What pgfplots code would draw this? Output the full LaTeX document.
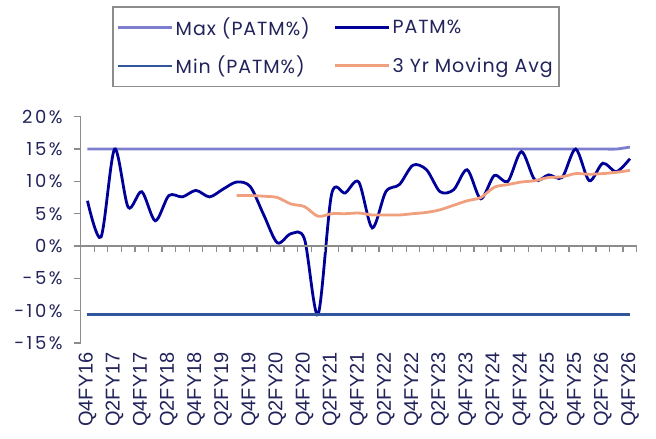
\documentclass[border=0pt]{standalone}
\usepackage{fontspec}
\setmainfont{Poppins}
\newfontfamily\tickfont[LetterSpace=14]{Poppins}
\newfontfamily\legfont[LetterSpace=5]{Poppins}
\newfontfamily\arialfont{Liberation Sans}
\usepackage{pgfplots}
\usepackage{pgfplotstable}
\pgfplotsset{compat=1.18}
\definecolor{maxc}{HTML}{7E7ECF}
\definecolor{patm}{HTML}{000099}
\definecolor{minc}{HTML}{33559C}
\definecolor{mavg}{HTML}{F0A07E}
\definecolor{txt}{HTML}{22235A}
\definecolor{axg}{HTML}{8C8C8C}

\pgfplotstableread{
i patm mx mn
0 7.0 15.0 -10.6
1 1.4 15.0 -10.6
2 15.0 15.0 -10.6
3 6.0 15.0 -10.6
4 8.4 15.0 -10.6
5 3.9 15.0 -10.6
6 7.8 15.0 -10.6
7 7.6 15.0 -10.6
8 8.6 15.0 -10.6
9 7.6 15.0 -10.6
10 8.8 15.0 -10.6
11 9.9 15.0 -10.6
12 9.2 15.0 -10.6
13 4.8 15.0 -10.6
14 0.5 15.0 -10.6
15 1.9 15.0 -10.6
16 1.1 15.0 -10.6
17 -10.6 15.0 -10.6
18 8.0 15.0 -10.6
19 8.2 15.0 -10.6
20 9.9 15.0 -10.6
21 2.8 15.0 -10.6
22 8.4 15.0 -10.6
23 9.5 15.0 -10.6
24 12.5 15.0 -10.6
25 11.8 15.0 -10.6
26 8.4 15.0 -10.6
27 8.7 15.0 -10.6
28 11.8 15.0 -10.6
29 7.3 15.0 -10.6
30 10.9 15.0 -10.6
31 10.0 15.0 -10.6
32 14.6 15.0 -10.6
33 10.2 15.0 -10.6
34 11.0 15.0 -10.6
35 10.6 15.0 -10.6
36 15.0 15.0 -10.6
37 10.1 15.0 -10.6
38 12.8 15.0 -10.6
39 11.5 15.0 -10.6
40 13.5 15.3 -10.6
}\data

\pgfplotstableread{
i ma
11 7.8
12 7.8
13 7.7
14 7.5
15 6.5
16 6.1
17 4.6
18 5.0
19 5.0
20 5.1
21 4.8
22 4.8
23 4.8
24 5.0
25 5.2
26 5.6
27 6.3
28 7.0
29 7.5
30 9.1
31 9.5
32 9.9
33 10.1
34 10.6
35 10.7
36 11.2
37 11.1
38 11.2
39 11.4
40 11.7
}\madata

\begin{document}
\begin{tikzpicture}
\begin{axis}[
  at={(0,0)}, anchor=south west,
  scale only axis, width=556pt, height=226.3pt,
  xmin=-0.5, xmax=40.5, ymin=-15, ymax=20,
  axis x line*=bottom, axis y line*=left,
  x axis line style={draw=none},
  xtick={0,2,...,40},
  xticklabels={Q4FY16,Q2FY17,Q4FY17,Q2FY18,Q4FY18,Q2FY19,Q4FY19,Q2FY20,Q4FY20,Q2FY21,Q4FY21,Q2FY22,Q4FY22,Q2FY23,Q4FY23,Q2FY24,Q4FY24,Q2FY25,Q4FY25,Q2FY26,Q4FY26},
  xtick style={draw=none},
  xticklabel style={rotate=90, anchor=east, font=\arialfont\fontsize{20}{20}\selectfont, text=txt, inner sep=2pt},
  ytick={-15,-10,...,20},
  yticklabels={-15\%,-10\%,-5\%,0\%,5\%,10\%,15\%,20\%},
  yticklabel style={font=\tickfont\fontsize{18}{18}\selectfont, text=txt, inner sep=2pt, xshift=-9pt},
  y axis line style={axg, line width=1.3pt},
  ytick style={axg, line width=1.3pt},
  tick align=outside, major tick length=7pt,
  clip=false,
  legend columns=2,
  legend cell align=left,
  legend image code/.code={\draw[#1] (0pt,0pt) -- (54pt,0pt);},
  legend style={at={(0.0563,1.489)}, anchor=north west, draw=axg, line width=1.8pt,
    font=\legfont\fontsize{19}{19}\selectfont, text=txt, inner xsep=4pt, inner ysep=9pt,
    row sep=15pt,
    /tikz/every even column/.append style={column sep=22pt}},
]
\addplot[maxc, line width=2.8pt, smooth] table[x=i, y=mx] {\data};
\addlegendentry{Max (PATM\%)}
\addplot[patm, line width=2.8pt, smooth] table[x=i, y=patm] {\data};
\addlegendentry{PATM\%}
\addplot[minc, line width=2.6pt] table[x=i, y=mn] {\data};
\addlegendentry{Min (PATM\%)}
\addplot[mavg, line width=2.8pt, smooth] table[x=i, y=ma] {\madata};
\addlegendentry{3 Yr Moving Avg}
\draw[axg, line width=1.3pt] (axis cs:-0.5,0) -- (axis cs:40.5,0);
\pgfplotsinvokeforeach{-0.5,0.5,...,40.5}{\draw[axg, line width=1.3pt] (axis cs:#1,0) -- ++(0pt,-6pt);}
\end{axis}
\pgfresetboundingbox
\useasboundingbox (-80.7pt,-96pt) rectangle (575.3pt,343pt);
\end{tikzpicture}
\end{document}
